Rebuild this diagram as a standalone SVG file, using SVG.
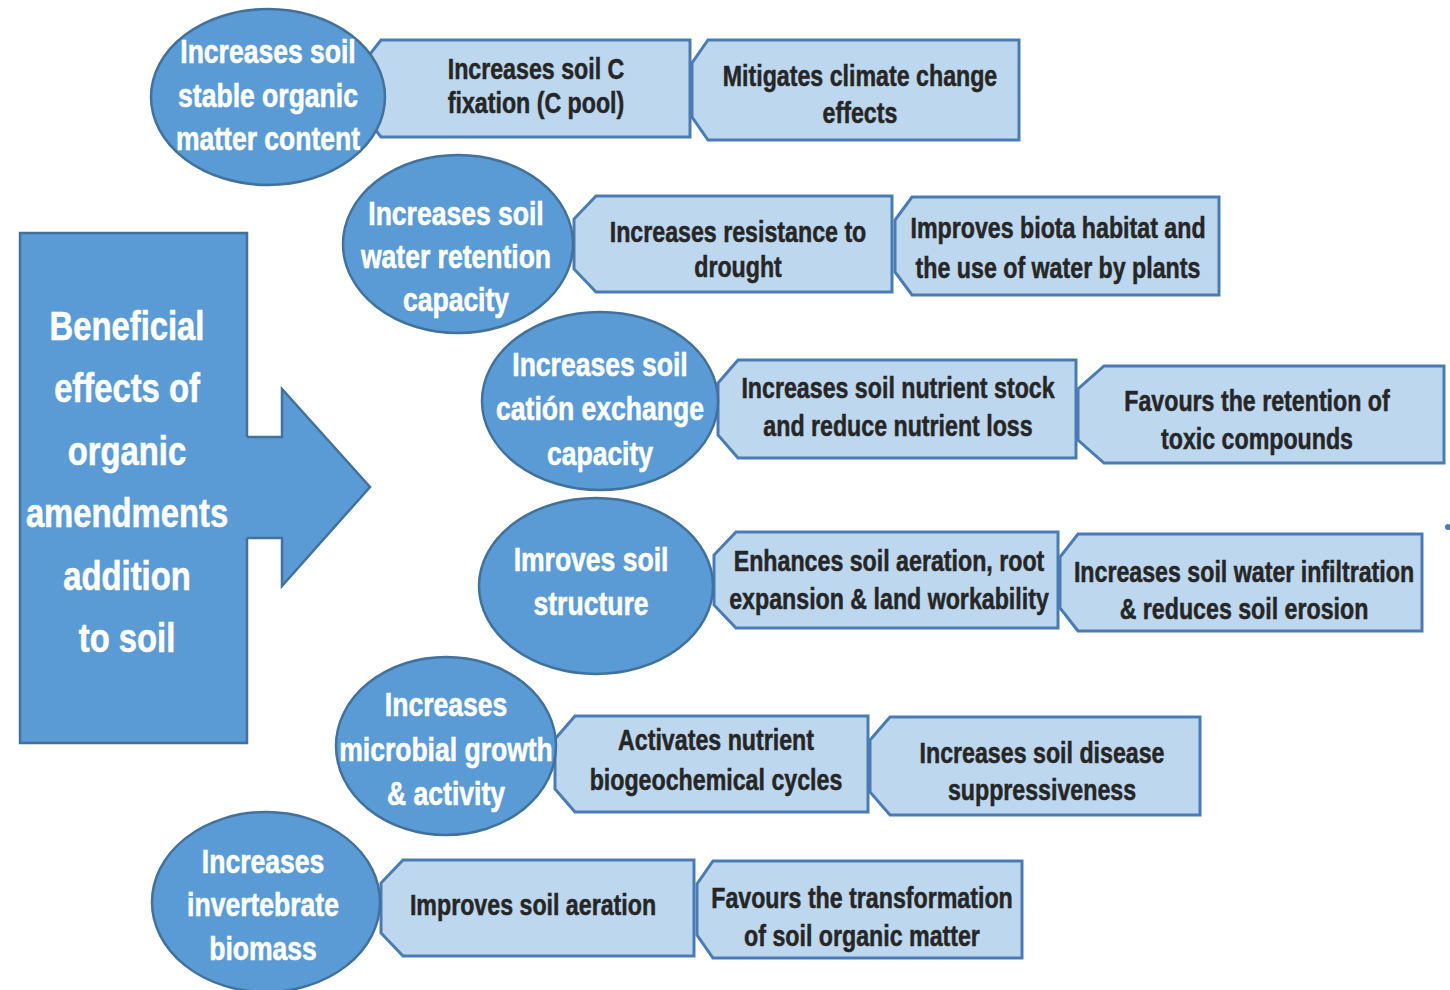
<svg xmlns="http://www.w3.org/2000/svg" width="1450" height="990" viewBox="0 0 1450 990">
  <style>
    .main { fill: #5b9bd5; stroke: #41719c; stroke-width: 2.5; }
    .oval { fill: #5b9bd5; stroke: #41719c; stroke-width: 2.5; }
    .box { fill: #bdd7ee; stroke: #4a7cb3; stroke-width: 3; stroke-linejoin: miter; }
    .tm { font-family: "Liberation Sans", Arial, sans-serif; font-weight: bold; font-size: 40px; fill: #ffffff; stroke: #ffffff; stroke-width: 0.6; text-anchor: middle; }
    .te { font-family: "Liberation Sans", Arial, sans-serif; font-weight: bold; font-size: 34px; fill: #ffffff; stroke: #ffffff; stroke-width: 0.6; text-anchor: middle; }
    .tb { font-family: "Liberation Sans", Arial, sans-serif; font-weight: bold; font-size: 29px; fill: #262626; stroke: #262626; stroke-width: 0.5; text-anchor: middle; }
  </style>
  <rect width="1450" height="990" fill="#ffffff"/>

  <!-- source block -->
  <g id="source">
    <rect class="main" x="20" y="233" width="227" height="510"/>
    <g transform="translate(127 0) scale(0.82 1)">
      <text class="tm" x="0" y="340">Beneficial</text>
      <text class="tm" x="0" y="402">effects of</text>
      <text class="tm" x="0" y="465">organic</text>
      <text class="tm" x="0" y="527">amendments</text>
      <text class="tm" x="0" y="590">addition</text>
      <text class="tm" x="0" y="652">to soil</text>
    </g>
  </g>

  <!-- block arrow leading from the source block to the effects -->
  <g id="connectors">
    <polygon points="240,437 282,437 282,389 370,487 282,586 282,538 240,538" fill="#5b9bd5"/>
    <polyline points="247,437 282,437 282,389 370,487 282,586 282,538 247,538" fill="none" stroke="#41719c" stroke-width="2.5" stroke-linejoin="miter"/>
  </g>

  <!-- second-level effect boxes (left side notched) -->
  <g id="box-c-fixation">
    <path class="box" d="M381,40 L690,40 L690,137 L381,137 L363,114 L363,63 Z"/>
    <g transform="translate(536 0) scale(0.8 1)">
      <text class="tb" x="0" y="79">Increases soil C</text>
      <text class="tb" x="0" y="113">fixation (C pool)</text>
    </g>
  </g>
  <g id="box-climate">
    <path class="box" d="M708,40 L1019,40 L1019,140 L708,140 L692,117 L692,63 Z"/>
    <g transform="translate(860 0) scale(0.8 1)">
      <text class="tb" x="0" y="86">Mitigates climate change</text>
      <text class="tb" x="0" y="123">effects</text>
    </g>
  </g>

  <g id="box-drought">
    <path class="box" d="M596,196 L892,196 L892,292 L596,292 L574,269 L574,219 Z"/>
    <g transform="translate(738 0) scale(0.8 1)">
      <text class="tb" x="0" y="242">Increases resistance to</text>
      <text class="tb" x="0" y="277">drought</text>
    </g>
  </g>
  <g id="box-biota">
    <path class="box" d="M912,197 L1219,197 L1219,295 L912,295 L895,272 L895,220 Z"/>
    <g transform="translate(1058 0) scale(0.8 1)">
      <text class="tb" x="0" y="238">Improves biota habitat and</text>
      <text class="tb" x="0" y="278">the use of water by plants</text>
    </g>
  </g>

  <g id="box-nutrient-stock">
    <path class="box" d="M738,360 L1076,360 L1076,458 L738,458 L718,435 L718,383 Z"/>
    <g transform="translate(898 0) scale(0.8 1)">
      <text class="tb" x="0" y="398">Increases soil nutrient stock</text>
      <text class="tb" x="0" y="436">and reduce nutrient loss</text>
    </g>
  </g>
  <g id="box-toxic">
    <path class="box" d="M1104,366 L1444,366 L1444,463 L1104,463 L1078,440 L1078,389 Z"/>
    <g transform="translate(1257 0) scale(0.8 1)">
      <text class="tb" x="0" y="411">Favours the retention of</text>
      <text class="tb" x="0" y="449">toxic compounds</text>
    </g>
  </g>

  <g id="box-aeration-root">
    <path class="box" d="M736,532 L1058,532 L1058,628 L736,628 L714,605 L714,555 Z"/>
    <g transform="translate(889 0) scale(0.8 1)">
      <text class="tb" x="0" y="571">Enhances soil aeration, root</text>
      <text class="tb" x="0" y="609">expansion &amp; land workability</text>
    </g>
  </g>
  <g id="box-infiltration">
    <path class="box" d="M1078,534 L1422,534 L1422,631 L1078,631 L1060,608 L1060,557 Z"/>
    <g transform="translate(1244 0) scale(0.8 1)">
      <text class="tb" x="0" y="582">Increases soil water infiltration</text>
      <text class="tb" x="0" y="619">&amp; reduces soil erosion</text>
    </g>
  </g>

  <g id="box-cycles">
    <path class="box" d="M575,716 L868,716 L868,812 L575,812 L555,789 L555,739 Z"/>
    <g transform="translate(716 0) scale(0.8 1)">
      <text class="tb" x="0" y="750">Activates nutrient</text>
      <text class="tb" x="0" y="790">biogeochemical cycles</text>
    </g>
  </g>
  <g id="box-suppressiveness">
    <path class="box" d="M890,717 L1200,717 L1200,815 L890,815 L870,792 L870,740 Z"/>
    <g transform="translate(1042 0) scale(0.8 1)">
      <text class="tb" x="0" y="763">Increases soil disease</text>
      <text class="tb" x="0" y="800">suppressiveness</text>
    </g>
  </g>

  <g id="box-soil-aeration">
    <path class="box" d="M403,860 L694,860 L694,956 L403,956 L381,933 L381,883 Z"/>
    <g transform="translate(533 0) scale(0.8 1)">
      <text class="tb" x="0" y="915">Improves soil aeration</text>
    </g>
  </g>
  <g id="box-som-transformation">
    <path class="box" d="M713,861 L1022,861 L1022,958 L713,958 L697,935 L697,884 Z"/>
    <g transform="translate(862 0) scale(0.8 1)">
      <text class="tb" x="0" y="908">Favours the transformation</text>
      <text class="tb" x="0" y="946">of soil organic matter</text>
    </g>
  </g>

  <!-- first-level effects (ovals) -->
  <g id="oval-organic-matter">
    <ellipse class="oval" cx="268" cy="97" rx="117" ry="88"/>
    <g transform="translate(268 0) scale(0.78 1)">
      <text class="te" x="0" y="63">Increases soil</text>
      <text class="te" x="0" y="107">stable organic</text>
      <text class="te" x="0" y="150">matter content</text>
    </g>
  </g>
  <g id="oval-water-retention">
    <ellipse class="oval" cx="458" cy="244" rx="115" ry="89"/>
    <g transform="translate(456 0) scale(0.78 1)">
      <text class="te" x="0" y="225">Increases soil</text>
      <text class="te" x="0" y="268">water retention</text>
      <text class="te" x="0" y="311">capacity</text>
    </g>
  </g>
  <g id="oval-cation-exchange">
    <ellipse class="oval" cx="600" cy="401" rx="118" ry="89"/>
    <g transform="translate(600 0) scale(0.78 1)">
      <text class="te" x="0" y="376">Increases soil</text>
      <text class="te" x="0" y="420">catión exchange</text>
      <text class="te" x="0" y="465">capacity</text>
    </g>
  </g>
  <g id="oval-structure">
    <ellipse class="oval" cx="596" cy="586" rx="117" ry="88"/>
    <g transform="translate(591 0) scale(0.78 1)">
      <text class="te" x="0" y="571">Imroves soil</text>
      <text class="te" x="0" y="615">structure</text>
    </g>
  </g>
  <g id="oval-microbial">
    <ellipse class="oval" cx="446" cy="746" rx="110" ry="89"/>
    <g transform="translate(446 0) scale(0.78 1)">
      <text class="te" x="0" y="716">Increases</text>
      <text class="te" x="0" y="761">microbial growth</text>
      <text class="te" x="0" y="805">&amp; activity</text>
    </g>
  </g>
  <g id="oval-invertebrate">
    <ellipse class="oval" cx="266" cy="902" rx="114" ry="90"/>
    <g transform="translate(263 0) scale(0.78 1)">
      <text class="te" x="0" y="873">Increases</text>
      <text class="te" x="0" y="916">invertebrate</text>
      <text class="te" x="0" y="960">biomass</text>
    </g>
  </g>

  <!-- small mark at the right edge -->
  <circle cx="1448" cy="527" r="3" fill="#4a7cb3"/>
</svg>
